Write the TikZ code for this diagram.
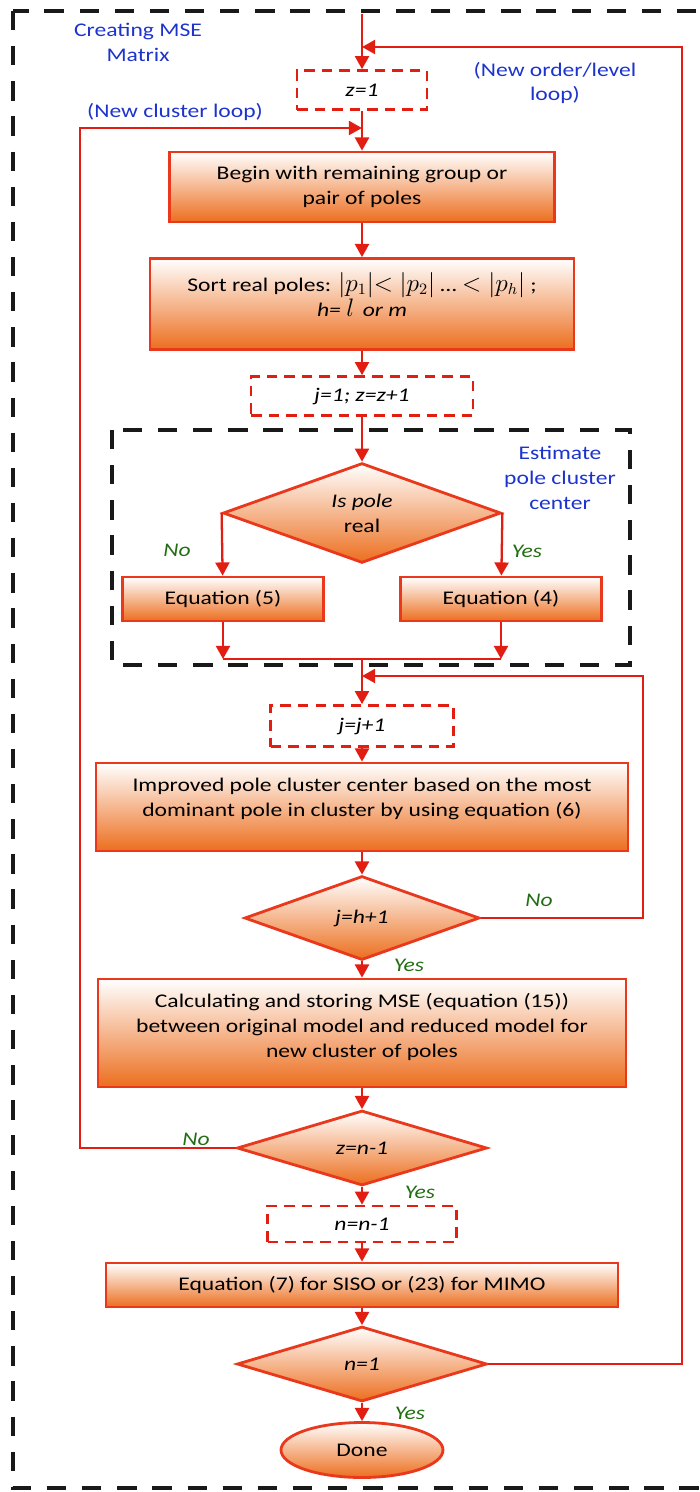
\documentclass[tikz,border=0pt]{standalone}
\usepackage{fontspec}
\setmainfont{Carlito}[FakeStretch = 1.22]
\usetikzlibrary{arrows.meta,shapes.geometric}
\definecolor{boxred}{RGB}{233,56,28}
\definecolor{linered}{RGB}{226,30,18}
\definecolor{boxorange}{RGB}{236,110,30}
\definecolor{noteblue}{RGB}{28,52,205}
\definecolor{answergreen}{RGB}{35,110,20}
\newcommand{\bigmath}[1]{{\fontsize{13.5}{14.2}\selectfont #1}}
\tikzset{
    proc/.style = {draw = boxred, line width = 1.6pt, top color = white, bottom color = boxorange, align = center, inner sep = 2pt},
    setbox/.style = {draw = linered, line width = 1.5pt, dash pattern = on 6pt off 4pt, fill = white, inner sep = 2pt},
    decision/.style = {diamond, draw = boxred, line width = 1.6pt, top color = white, bottom color = boxorange, inner sep = 0pt, align = center},
    flow/.style = {draw = linered, line width = 1.3pt, -{Triangle[length = 7.5pt, width = 8pt]}},
    link/.style = {draw = linered, line width = 1.3pt},
    loopnote/.style = {text = noteblue, align = center},
    answer/.style = {text = answergreen, font = \fontsize{11}{14.2}\selectfont\itshape},
    borderline/.style = {draw = black!90, line width = 2.8pt, dash pattern = on 11pt off 9pt}
}
\begin{document}
\begin{tikzpicture}[x = 0.02cm, y = -0.02cm, font = \fontsize{11}{14.2}\selectfont]
        \useasboundingbox (0, 0) rectangle (700, 1492);
        \begin{scope}
            \clip (0, 0) rectangle (700, 1492);
            \draw[borderline] (13, 11) rectangle (740, 1488);
        \end{scope}
        \draw[borderline] (112, 430) rectangle (630, 665);

        \node[loopnote] (mseNote) at (138, 42) {Creating MSE\\Matrix};
        \node[loopnote] (orderNote) at (555, 83) {(New order/level\\loop)};
        \node[loopnote] (clusterNote) at (175, 112) {(New cluster loop)};
        \node[loopnote] (centerNote) at (560, 478) {Estimate\\pole cluster\\center};

        \node[setbox, minimum width = 2.6cm, minimum height = 0.78cm] (zOne) at (362, 90) {\textit{z=1}};
        \node[proc, minimum width = 7.7cm, minimum height = 1.4cm] (beginBox) at (362, 187) {Begin with remaining group or\\pair of poles};
        \node[proc, minimum width = 8.48cm, minimum height = 1.82cm] (sortBox) at (362, 304) {Sort real poles: \bigmath{$|p_1|{<}\ |p_2|$} \dots\ \bigmath{$<|p_h|$} ;\\\textit{h= \bigmath{$l$}\, or m}\\[-3pt]\mbox{}};
        \node[setbox, minimum width = 4.44cm, minimum height = 0.78cm] (jOne) at (362, 396) {\textit{j=1; z=z+1}};
        \node[decision, minimum width = 5.56cm, minimum height = 1.86cm] (poleCheck) at (362, 513) {\textit{Is pole}\\real};
        \node[proc, minimum width = 4.02cm, minimum height = 0.88cm] (eqFive) at (223, 599) {Equation (5)};
        \node[proc, minimum width = 4.02cm, minimum height = 0.88cm] (eqFour) at (501, 599) {Equation (4)};
        \node[setbox, minimum width = 3.66cm, minimum height = 0.82cm] (jNext) at (362, 726) {\textit{j=j+1}};
        \node[proc, minimum width = 10.64cm, minimum height = 1.76cm] (improveBox) at (362, 807) {Improved pole cluster center based on the most\\dominant pole in cluster by using equation (6)\\[-3pt]\mbox{}};
        \node[decision, minimum width = 4.7cm, minimum height = 1.68cm] (jCheck) at (362, 918) {\textit{j=h+1}};
        \node[proc, minimum width = 10.56cm, minimum height = 2.16cm] (mseBox) at (362, 1033) {Calculating and storing MSE (equation (15))\\between original model and reduced model for\\new cluster of poles\\[-6pt]\mbox{}};
        \node[decision, minimum width = 5cm, minimum height = 1.5cm] (zCheck) at (362, 1148) {\textit{z=n-1}};
        \node[setbox, minimum width = 3.78cm, minimum height = 0.72cm] (nDown) at (362, 1224) {\textit{n=n-1}};
        \node[proc, minimum width = 10.24cm, minimum height = 0.88cm] (eqSeven) at (362, 1285) {Equation (7) for SISO or (23) for MIMO};
        \node[decision, minimum width = 5cm, minimum height = 1.5cm] (nCheck) at (362, 1364) {\textit{n=1}};
        \node[proc, ellipse, inner sep = 0pt, minimum width = 3.24cm, minimum height = 1.1cm] (done) at (362, 1450) {Done};

        \coordinate (top) at (362, 14);
        \coordinate (orderIn) at (362, 47);
        \coordinate (clusterIn) at (362, 128);
        \coordinate (merge) at (362, 659);
        \coordinate (mergeL) at (eqFive |- merge);
        \coordinate (mergeR) at (eqFour |- merge);
        \coordinate (jIn) at (362, 676);

        \draw[flow] (top) -- (zOne);
        \draw[flow] (zOne) -- (beginBox);
        \draw[flow] (beginBox) -- (sortBox);
        \draw[flow] (sortBox) -- (jOne);
        \draw[flow] (jOne) -- (poleCheck);
        \draw[flow] (poleCheck.west) -- (eqFive);
        \draw[flow] (poleCheck.east) -- (eqFour);
        \draw[flow] (eqFive) -- (mergeL);
        \draw[flow] (eqFour) -- (mergeR);
        \draw[link] (mergeL) -- (mergeR);
        \draw[flow] (merge) -- (jNext);
        \draw[flow] (jNext) -- (improveBox);
        \draw[flow] (improveBox) -- (jCheck);
        \draw[flow] (jCheck) -- (mseBox);
        \draw[flow] (mseBox) -- (zCheck);
        \draw[flow] (zCheck) -- (nDown);
        \draw[flow] (nDown) -- (eqSeven);
        \draw[flow] (eqSeven) -- (nCheck);
        \draw[flow] (nCheck) -- (done);
        \draw[flow] (jCheck.east) -| (643, 676) -- (jIn);
        \draw[flow] (zCheck.west) -| (80, 128) -- (clusterIn);
        \draw[flow] (nCheck.east) -| (682, 47) -- (orderIn);

        \foreach \x/\y/\lab [count = \i] in {177/550/No, 527/551/Yes, 539/900/No, 409/965/Yes, 196/1139/No, 420/1192/Yes, 410/1413/Yes}{
            \node[answer] (answer\i) at (\x, \y) {\lab};
        }
\end{tikzpicture}
\end{document}
